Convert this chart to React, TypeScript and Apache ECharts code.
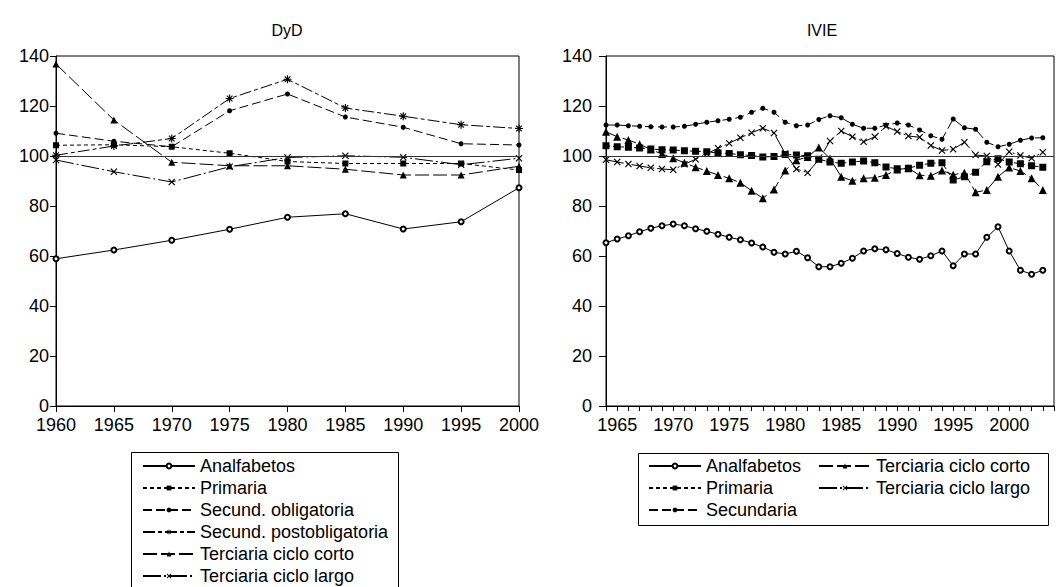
import React, { useEffect, useRef } from "react";
import * as echarts from "echarts";

// DyD series (quinquennial)
const dydYears = [1960, 1965, 1970, 1975, 1980, 1985, 1990, 1995, 2000];
const dydAnalfabetos = [58.9, 62.4, 66.3, 70.7, 75.5, 76.9, 70.8, 73.7, 87.3];
const dydPrimaria = [104.3, 104.5, 103.7, 101.1, 97.8, 97.0, 97.0, 97.0, 94.4];
const dydSecObligatoria = [109.1, 105.9, 103.7, 118.1, 124.8, 115.6, 111.5, 104.9, 104.4];
const dydSecPostobligatoria = [100.3, 104.0, 107.0, 123.0, 130.7, 119.2, 115.9, 112.5, 111.0];
const dydTercCorto = [136.8, 114.4, 97.5, 96.1, 96.1, 94.7, 92.4, 92.4, 95.9];
const dydTercLargo = [98.4, 93.7, 89.6, 95.7, 99.4, 100.1, 99.5, 96.5, 99.1];

// IVIE series (annual)
const ivieYears = [
  1964, 1965, 1966, 1967, 1968, 1969, 1970, 1971, 1972, 1973,
  1974, 1975, 1976, 1977, 1978, 1979, 1980, 1981, 1982, 1983,
  1984, 1985, 1986, 1987, 1988, 1989, 1990, 1991, 1992, 1993,
  1994, 1995, 1996, 1997, 1998, 1999, 2000, 2001, 2002, 2003,
];
const ivieAnalfabetos = [
  65.3, 66.8, 68.1, 69.7, 71.1, 72.1, 72.8, 72.1, 70.9, 69.9,
  68.7, 67.5, 66.5, 65.2, 63.6, 61.5, 60.8, 61.9, 59.3, 55.7,
  55.7, 57.1, 59.1, 62.0, 62.9, 62.5, 61.0, 59.5, 58.7, 60.1,
  62.0, 56.1, 60.8, 60.8, 67.5, 71.7, 62.0, 54.3, 52.7, 54.3,
];
const iviePrimaria = [
  104.1, 103.7, 103.5, 103.2, 102.8, 102.5, 102.4, 102.1, 101.9, 101.7,
  101.2, 101.0, 100.5, 100.2, 99.6, 99.8, 100.6, 100.4, 100.1, 98.7,
  97.6, 97.1, 97.6, 98.0, 97.3, 95.6, 94.9, 95.1, 96.3, 97.1,
  97.3, 90.4, 91.7, 93.5, 97.7, 98.9, 97.6, 96.9, 96.1, 95.5,
];
const ivieSecundaria = [
  112.4, 112.4, 112.1, 111.9, 111.7, 111.6, 111.6, 111.9, 112.7, 113.5,
  114.1, 114.7, 115.5, 117.5, 119.1, 117.5, 113.5, 112.1, 112.4, 114.6,
  116.1, 115.3, 112.7, 111.1, 111.1, 112.4, 113.2, 112.4, 110.4, 108.1,
  106.7, 114.8, 111.3, 110.7, 105.5, 103.7, 104.7, 106.3, 107.2, 107.3,
];
const ivieTercCorto = [
  109.7, 107.7, 106.4, 104.7, 102.6, 100.8, 99.1, 97.3, 95.5, 94.0,
  92.4, 91.1, 89.3, 86.1, 83.1, 86.6, 94.2, 98.3, 99.6, 103.4,
  99.0, 91.7, 90.1, 91.1, 91.3, 92.4, 94.6, 95.1, 92.3, 92.1,
  94.2, 92.5, 93.3, 85.5, 86.4, 91.7, 95.4, 94.0, 91.1, 86.4,
];
const ivieTercLargo = [
  98.5, 97.6, 96.8, 96.0, 95.3, 94.8, 94.5, 96.7, 98.7, 100.9,
  103.1, 105.1, 107.3, 109.3, 111.1, 109.2, 101.0, 94.8, 93.3, 98.5,
  106.0, 110.0, 107.7, 105.7, 107.7, 111.9, 109.8, 108.0, 107.5, 104.2,
  102.2, 102.7, 105.5, 100.4, 100.0, 96.6, 101.7, 100.2, 99.1, 101.5,
];

const yTicks = [0, 20, 40, 60, 80, 100, 120, 140];
const referenceLevel = 100;

const FONT = '"Liberation Sans", Arial, Helvetica, sans-serif';

// Marker glyphs drawn as filled outlines
const ASTERISK =
  "path://M0 8.6H20V11.4H0Z M8.6 0H11.4V20H8.6Z M1.9 3.9L3.9 1.9L18.1 16.1L16.1 18.1Z M16.1 1.9L18.1 3.9L3.9 18.1L1.9 16.1Z";
const CROSS = "path://M0 2.4L2.4 0L20 17.6L17.6 20Z M17.6 0L20 2.4L2.4 20L0 17.6Z";

const look = {
  analf: { symbol: "emptyCircle", dash: "solid" },
  prim: { symbol: "rect", dash: [4, 3] },
  sec: { symbol: "circle", dash: [9, 4] },
  post: { symbol: ASTERISK, dash: [12, 3, 4, 3] },
  corto: { symbol: "triangle", dash: [14, 4] },
  largo: { symbol: CROSS, dash: [18, 3, 2, 3] },
};

function lineSeries(
  name: string,
  years: number[],
  values: number[],
  st: { symbol: string; dash: any },
  size: number,
  axis: number,
  withRef: boolean
) {
  const empty = st.symbol === "emptyCircle";
  return {
    type: "line",
    name,
    xAxisIndex: axis,
    yAxisIndex: axis,
    data: years.map((y, i) => [y, values[i]]),
    symbol: st.symbol,
    symbolSize: size,
    showSymbol: true,
    showAllSymbol: true,
    lineStyle: { color: "#000", width: 1, type: st.dash },
    itemStyle: {
      color: "#000",
      borderColor: "#000",
      borderWidth: empty ? 1 : 0,
    },
    emphasis: { disabled: true },
    markLine: withRef
      ? {
          silent: true,
          symbol: ["none", "none"],
          label: { show: false },
          lineStyle: { color: "#333", width: 1, type: "solid" },
          data: [{ yAxis: referenceLevel }],
        }
      : undefined,
  };
}

export default function App() {
  const ref = useRef<HTMLDivElement>(null);

  useEffect(() => {
    if (!ref.current) return;
    const chart = echarts.init(ref.current, undefined, { renderer: "svg" });

    const axisText = { color: "#000", fontSize: 18, fontFamily: FONT };
    const blackLine = { lineStyle: { color: "#000", width: 1 } };

    const legendBase = {
      orient: "vertical",
      padding: 0,
      itemWidth: 52,
      itemHeight: 6,
      itemGap: 4,
      selectedMode: false,
      textStyle: { color: "#000", fontSize: 18, lineHeight: 18, fontFamily: FONT },
    };

    const option: any = {
      animation: false,
      backgroundColor: "#fff",
      grid: [
        {
          left: 56,
          top: 56,
          width: 463,
          height: 350,
          show: true,
          borderColor: "#000",
          borderWidth: 1,
          backgroundColor: "transparent",
        },
        {
          left: 606,
          top: 56,
          width: 462,
          height: 350,
          show: true,
          borderColor: "#000",
          borderWidth: 1,
          backgroundColor: "transparent",
        },
      ],
      xAxis: [
        {
          type: "value",
          gridIndex: 0,
          min: 1960,
          max: 2000,
          interval: 5,
          axisLine: blackLine,
          axisTick: { length: 6, lineStyle: { color: "#000" } },
          axisLabel: { ...axisText, margin: 10, formatter: (v: number) => String(v) },
          splitLine: { show: false },
        },
        {
          type: "value",
          gridIndex: 1,
          min: 1964,
          max: 2004,
          interval: 1,
          axisLine: blackLine,
          axisTick: { length: 5, lineStyle: { color: "#000" } },
          axisLabel: {
            ...axisText,
            margin: 10,
            formatter: (v: number) => (v % 5 === 0 && v <= 2000 ? String(v) : ""),
          },
          splitLine: { show: false },
        },
      ],
      yAxis: [
        {
          type: "value",
          gridIndex: 0,
          min: yTicks[0],
          max: yTicks[yTicks.length - 1],
          interval: 20,
          axisLine: { show: true, ...blackLine },
          axisTick: { show: true, length: 6, lineStyle: { color: "#000" } },
          axisLabel: { ...axisText, margin: 7 },
          splitLine: { show: false },
        },
        {
          type: "value",
          gridIndex: 1,
          min: yTicks[0],
          max: yTicks[yTicks.length - 1],
          interval: 20,
          axisLine: { show: true, ...blackLine },
          axisTick: { show: true, length: 7, lineStyle: { color: "#000" } },
          axisLabel: { ...axisText, margin: 14 },
          splitLine: { show: false },
        },
      ],
      legend: [
        {
          ...legendBase,
          left: 142,
          top: 457,
          data: [
            "Analfabetos",
            "Primaria",
            "Secund. obligatoria",
            "Secund. postobligatoria",
            "Terciaria ciclo corto",
            "Terciaria ciclo largo",
          ],
        },
        {
          ...legendBase,
          left: 648,
          top: 457,
          data: ["Analfabetos", "Primaria", "Secundaria"],
        },
        {
          ...legendBase,
          left: 818,
          top: 457,
          data: ["Terciaria ciclo corto", "Terciaria ciclo largo"],
        },
      ],
      graphic: [
        {
          type: "text",
          x: 287,
          y: 30,
          style: {
            text: "DyD",
            fill: "#000",
            font: `16px ${FONT}`,
            align: "center",
            verticalAlign: "middle",
          },
        },
        {
          type: "text",
          x: 822,
          y: 30,
          style: {
            text: "IVIE",
            fill: "#000",
            font: `16px ${FONT}`,
            align: "center",
            verticalAlign: "middle",
          },
        },
        {
          type: "rect",
          shape: { x: 131.5, y: 452.5, width: 267, height: 150 },
          style: { fill: "none", stroke: "#000", lineWidth: 1 },
        },
        {
          type: "rect",
          shape: { x: 638.5, y: 453.5, width: 410, height: 72 },
          style: { fill: "none", stroke: "#000", lineWidth: 1 },
        },
      ],
      series: [
        lineSeries("Analfabetos", dydYears, dydAnalfabetos, look.analf, 5, 0, true),
        lineSeries("Primaria", dydYears, dydPrimaria, look.prim, 6, 0, false),
        lineSeries("Secund. obligatoria", dydYears, dydSecObligatoria, look.sec, 5, 0, false),
        lineSeries("Secund. postobligatoria", dydYears, dydSecPostobligatoria, look.post, 8, 0, false),
        lineSeries("Terciaria ciclo corto", dydYears, dydTercCorto, look.corto, 7, 0, false),
        lineSeries("Terciaria ciclo largo", dydYears, dydTercLargo, look.largo, 7, 0, false),

        lineSeries("Analfabetos", ivieYears, ivieAnalfabetos, look.analf, 5, 1, true),
        lineSeries("Primaria", ivieYears, iviePrimaria, look.prim, 7, 1, false),
        lineSeries("Secundaria", ivieYears, ivieSecundaria, look.sec, 5, 1, false),
        lineSeries("Terciaria ciclo corto", ivieYears, ivieTercCorto, look.corto, 8, 1, false),
        lineSeries("Terciaria ciclo largo", ivieYears, ivieTercLargo, look.largo, 7, 1, false),
      ],
    };

    chart.setOption(option);
    return () => chart.dispose();
  }, []);

  return (
    <div
      ref={ref}
      style={{ position: "absolute", left: 0, top: 0, width: 1057, height: 587 }}
    />
  );
}
